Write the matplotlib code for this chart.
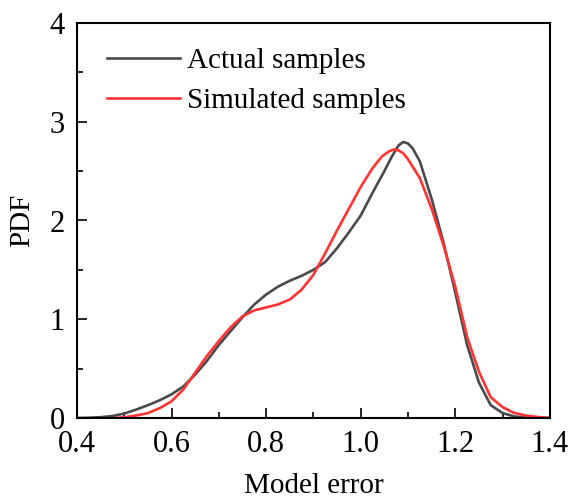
import numpy as np
import matplotlib
matplotlib.use("Agg")
import matplotlib.pyplot as plt
from matplotlib.ticker import MultipleLocator, FormatStrFormatter

# model error values and kernel density estimates
actual_x = [0.40, 0.425, 0.45, 0.475, 0.50, 0.525, 0.55, 0.575, 0.60, 0.625,
            0.65, 0.675, 0.70, 0.725, 0.75, 0.775, 0.80, 0.825, 0.85, 0.875,
            0.90, 0.925, 0.95, 0.975, 1.00, 1.025, 1.05, 1.065, 1.08, 1.09,
            1.10, 1.11, 1.125, 1.15, 1.175, 1.20, 1.225, 1.25, 1.275, 1.30,
            1.325, 1.35, 1.375, 1.40]
actual_pdf = [0.0, 0.003, 0.008, 0.02, 0.045, 0.085, 0.13, 0.18, 0.24, 0.32,
              0.44, 0.58, 0.74, 0.88, 1.02, 1.15, 1.25, 1.33, 1.39, 1.44,
              1.50, 1.58, 1.72, 1.88, 2.05, 2.28, 2.50, 2.64, 2.76, 2.795,
              2.78, 2.73, 2.60, 2.22, 1.78, 1.27, 0.74, 0.36, 0.13, 0.05,
              0.015, 0.004, 0.001, 0.0]

sim_x = [0.48, 0.50, 0.525, 0.55, 0.575, 0.60, 0.625, 0.65, 0.675, 0.70,
         0.725, 0.75, 0.775, 0.80, 0.825, 0.85, 0.875, 0.90, 0.925, 0.95,
         0.975, 1.00, 1.025, 1.045, 1.06, 1.07, 1.08, 1.09, 1.10, 1.125,
         1.15, 1.175, 1.20, 1.225, 1.25, 1.275, 1.30, 1.325, 1.35, 1.375,
         1.40]
sim_pdf = [0.0, 0.008, 0.025, 0.05, 0.10, 0.17, 0.29, 0.46, 0.63, 0.78,
           0.92, 1.03, 1.09, 1.12, 1.15, 1.20, 1.30, 1.45, 1.67, 1.90,
           2.12, 2.34, 2.53, 2.65, 2.70, 2.72, 2.71, 2.68, 2.62, 2.43,
           2.12, 1.75, 1.33, 0.82, 0.47, 0.21, 0.11, 0.05, 0.025, 0.01,
           0.0]

plt.rcParams["font.family"] = ["Liberation Serif", "DejaVu Serif"]

fig = plt.figure(figsize=(5.68, 5.0), dpi=100)
ax = fig.add_axes([0.1356, 0.164, 0.8324, 0.790])

ax.plot(actual_x, actual_pdf, color="#4a4a4a", lw=1.9, label="Actual samples")
ax.plot(sim_x, sim_pdf, color="#ff3333", lw=1.9, label="Simulated samples")

ax.set_xlim(0.4, 1.4)
ax.set_ylim(0, 4)
ax.xaxis.set_major_locator(MultipleLocator(0.2))
ax.xaxis.set_minor_locator(MultipleLocator(0.1))
ax.yaxis.set_major_locator(MultipleLocator(1))
ax.yaxis.set_minor_locator(MultipleLocator(0.5))
ax.xaxis.set_major_formatter(FormatStrFormatter("%.1f"))
ax.tick_params(which="both", direction="in", width=1.2, labelsize=22,
               top=False, right=False)
ax.tick_params(which="major", length=7)
ax.tick_params(axis="x", which="major", pad=9)
ax.tick_params(axis="y", which="major", pad=9)
ax.tick_params(which="minor", length=4)
for s in ax.spines.values():
    s.set_linewidth(1.5)

ax.set_xlabel("Model error", fontsize=21, labelpad=10)
ax.set_ylabel("PDF", fontsize=21, labelpad=10)

ax.legend(loc="upper left", frameon=False, fontsize=21, handlelength=2.5,
          handletextpad=0.25, labelspacing=0.45, borderaxespad=0.5,
          bbox_to_anchor=(0.008, 1.003))

fig.savefig("out.png", dpi=100)
